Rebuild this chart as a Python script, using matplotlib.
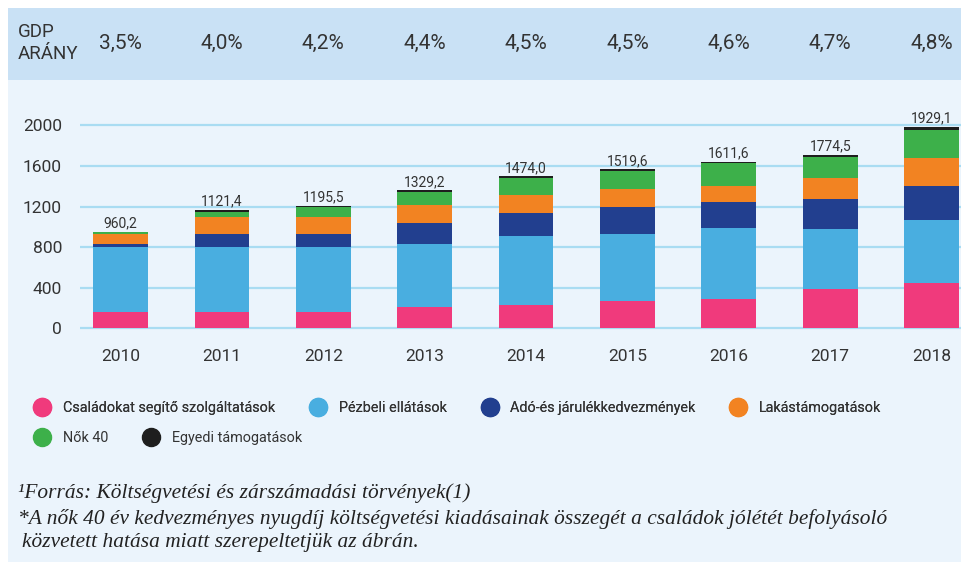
import matplotlib.pyplot as plt
import matplotlib.transforms as mtransforms
from matplotlib.patches import Rectangle
from matplotlib.lines import Line2D
import numpy as np

plt.rcParams['font.family'] = ['Roboto', 'DejaVu Sans']

years = ['2010', '2011', '2012', '2013', '2014', '2015', '2016', '2017', '2018']
gdp_share = ['3,5%', '4,0%', '4,2%', '4,4%', '4,5%', '4,5%', '4,6%', '4,7%', '4,8%']
totals = ['960,2', '1121,4', '1195,5', '1329,2', '1474,0', '1519,6', '1611,6', '1774,5', '1929,1']

# segment values (bottom to top)
csaladokat = [162, 161, 161, 207, 233, 269, 289, 387, 446]
penzbeli = [640, 640, 640, 627, 676, 663, 702, 590, 626]
ado = [24, 131, 131, 203, 223, 259, 249, 295, 331]
lakas = [108, 167, 164, 177, 177, 177, 164, 213, 276]
nok40 = [15, 49, 95, 125, 167, 180, 223, 203, 272]
egyedi = [3, 20, 16, 23, 20, 20, 16, 23, 33]

series = [csaladokat, penzbeli, ado, lakas, nok40, egyedi]
names = ['Családokat segítő szolgáltatások', 'Pézbeli ellátások',
         'Adó-és járulékkedvezmények', 'Lakástámogatások', 'Nők 40',
         'Egyedi támogatások']
colors = ['#F03A7C', '#49AEE0', '#223F8F', '#F28322', '#3DB04A', '#1E1E1E']

W, H = 961, 562
fig = plt.figure(figsize=(W / 100, H / 100), dpi=100)
fig.patch.set_facecolor('white')

# panel background + GDP band
fig.add_artist(Rectangle((8 / W, 0), 1 - 8 / W, 1 - 8 / H, transform=fig.transFigure,
                         facecolor='#EBF4FC', edgecolor='none', zorder=-10))
fig.add_artist(Rectangle((8 / W, 1 - 80 / H), 1 - 8 / W, 72 / H, transform=fig.transFigure,
                         facecolor='#C9E1F5', edgecolor='none', zorder=-9))

ax = fig.add_axes([80 / W, 1 - 332 / H, 1 - 80 / W, 252 / H])
ax.set_facecolor('none')
x = np.arange(len(years))
bottom = np.zeros(len(years))
for vals, c, n in zip(series, colors, names):
    ax.bar(x, vals, 0.54, bottom=bottom, color=c, label=n, zorder=3)
    bottom += np.array(vals)

for xi, top, t in zip(x, bottom, totals):
    ax.annotate(t, (xi, top), xytext=(0, 3), textcoords='offset points',
                ha='center', va='baseline', fontsize=10, color='#333333',
                annotation_clip=False)

ax.set_xlim(-0.40, 8.29)
ax.set_ylim(-36, 2446)
ax.set_yticks([0, 400, 800, 1200, 1600, 2000])
ax.set_xticks(x)
ax.set_xticklabels(years)
ax.tick_params(length=0, labelsize=12.5, labelcolor='#333333')
ax.tick_params(axis='y', pad=13)
ax.tick_params(axis='x', pad=12)
ax.yaxis.grid(True, color='#A9DCF2', linewidth=1.6, zorder=0)
for s in ax.spines.values():
    s.set_visible(False)

# GDP row
fig.text(18 / W, 1 - 43 / H, 'GDP\nARÁNY', fontsize=13.5, color='#333333',
         va='center', ha='left', linespacing=1.3)
gdp_trans = mtransforms.blended_transform_factory(ax.transData, fig.transFigure)
for xi, g in zip(x, gdp_share):
    ax.text(xi, 1 - 43 / H, g, transform=gdp_trans,
            ha='center', va='center', fontsize=15, color='#333333')

# legend, two rows
h = [Line2D([], [], marker='o', linestyle='none', markersize=13, color=c) for c in colors]
leg_kw = dict(frameon=False, fontsize=10.4, handletextpad=0.45, columnspacing=1.95,
              borderaxespad=0, borderpad=0, labelcolor='#333333', loc='center left')
leg1 = fig.legend(h[:4], names[:4], ncol=4, bbox_to_anchor=(28 / W, 1 - 408 / H), **leg_kw)
leg2 = fig.legend(h[4:], names[4:], ncol=2, bbox_to_anchor=(28 / W, 1 - 438 / H), **leg_kw)
fig.add_artist(leg1)

# footnotes
foot = dict(family='Liberation Serif', style='italic', fontsize=15.4, color='#222222',
            ha='left', va='center')
fig.text(18 / W, 1 - 493 / H, '¹Forrás: Költségvetési és zárszámadási törvények(1)', **foot)
fig.text(18 / W, 1 - 519 / H, '*A nők 40 év kedvezményes nyugdíj költségvetési kiadásainak '
         'összegét a családok jólétét befolyásoló', **foot)
fig.text(22 / W, 1 - 543 / H, 'közvetett hatása miatt szerepeltetjük az ábrán.', **foot)

fig.savefig('out.png', dpi=100)
